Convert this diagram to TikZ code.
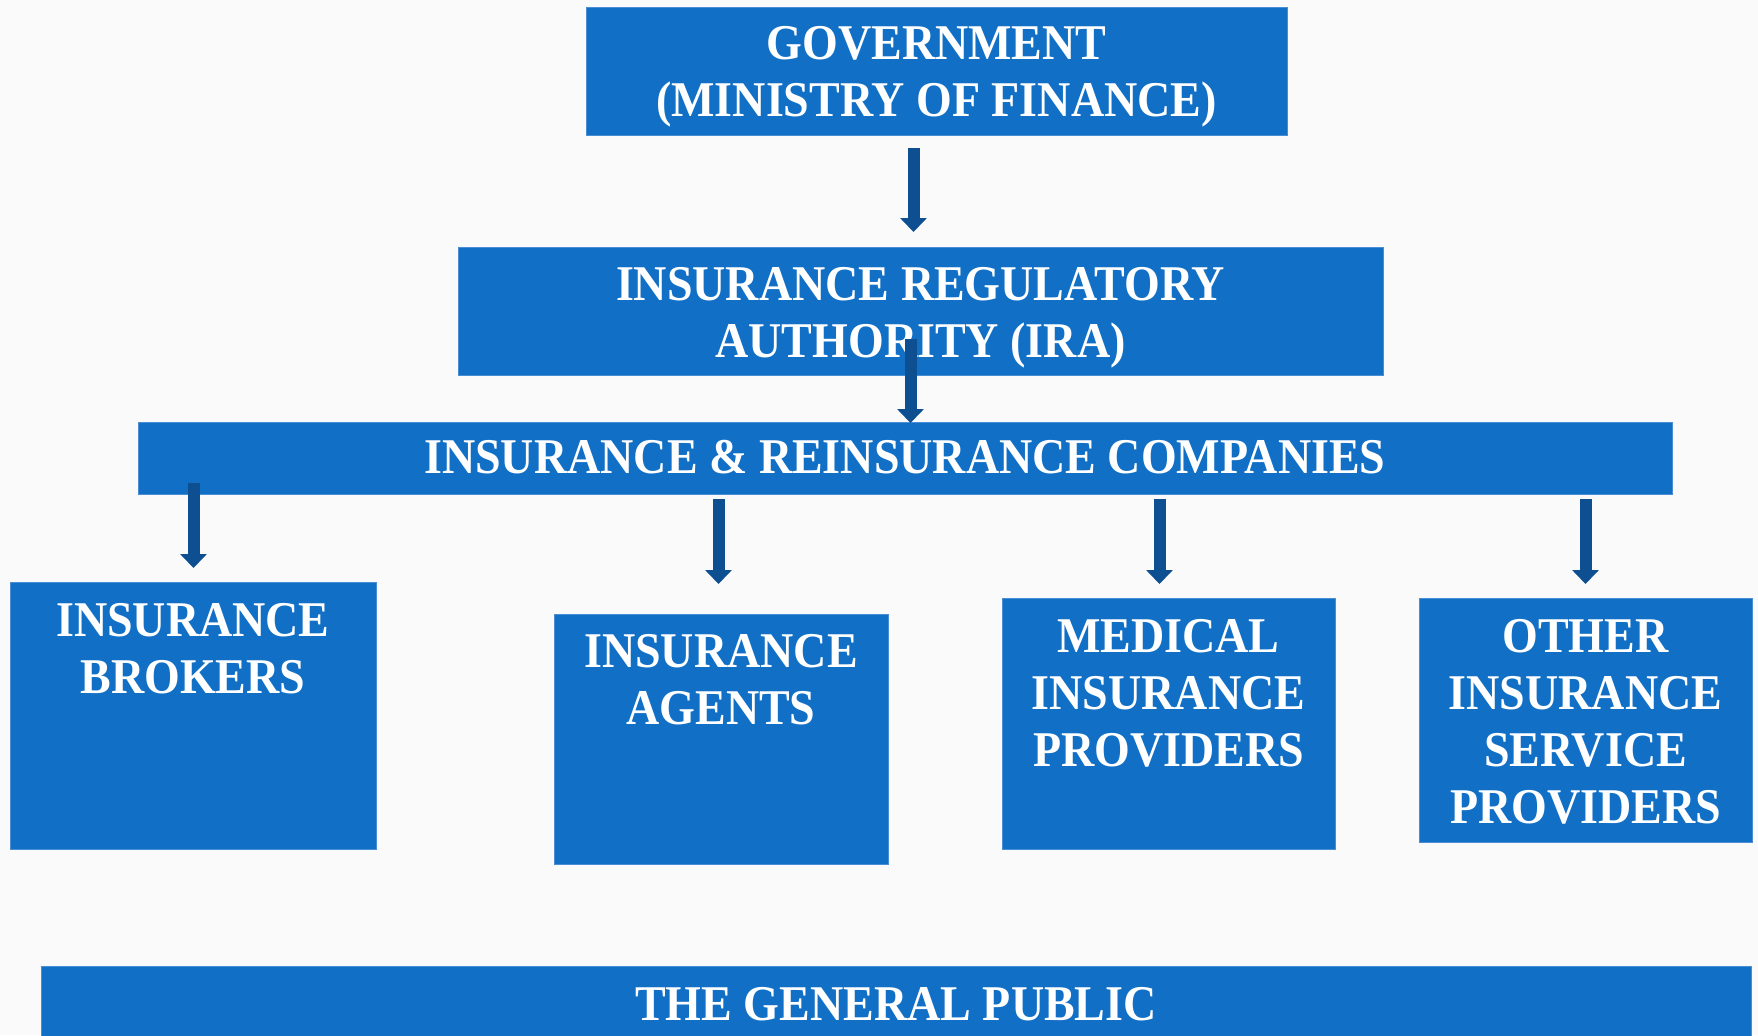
\documentclass[tikz,border=0pt]{standalone}
\usepackage{fontspec}
\setmainfont{Liberation Serif}[FakeStretch=0.92]
\usetikzlibrary{arrows.meta,calc}
\definecolor{boxblue}{RGB}{17,112,198}
\definecolor{boxedge}{RGB}{72,142,212}
\definecolor{arrowblue}{RGB}{14,79,145}
\definecolor{paper}{RGB}{250,250,250}
\begin{document}
\begin{tikzpicture}[x=0.5pt,y=-0.5pt,
  box/.style={draw=boxedge, line width=0.5pt, fill=boxblue, inner sep=0pt, anchor=north west},
  boxtext/.style={text=white, font=\bfseries\fontsize{25}{28.5}\selectfont, align=center, inner sep=0pt, anchor=north},
  flow/.style={draw=arrowblue, line width=6pt, -{Triangle[width=13pt,length=7pt]}}
]
% canvas
\useasboundingbox (0,0) rectangle (1758,1035);
\fill[paper] (0,0) rectangle (1758,1035);

% boxes
\node[box, minimum width=350.5pt, minimum height=64pt]  (gov)   at (586,7)   {};
\node[box, minimum width=462.5pt, minimum height=64pt]  (ira)   at (458,247) {};
\node[box, minimum width=767pt,   minimum height=36pt]  (comp)  at (138,422) {};
\node[box, minimum width=183pt,   minimum height=133.5pt] (brok) at (10,582)  {};
\node[box, minimum width=167pt,   minimum height=125pt] (agen)  at (554,614) {};
\node[box, minimum width=166.5pt, minimum height=125.5pt] (med) at (1002,598) {};
\node[box, minimum width=166.5pt, minimum height=122pt] (oth)   at (1419,598) {};
\node[box, minimum width=855pt,   minimum height=35.5pt] (pub)  at (41,966)  {};

% labels
\node[boxtext] (govt)  at (936.5,26)  {GOVERNMENT\\(MINISTRY OF FINANCE)};
\node[boxtext] (irat)  at (920.5,267) {INSURANCE REGULATORY\\AUTHORITY (IRA)};
\node[boxtext] (compt) at (905,440)   {INSURANCE \& REINSURANCE COMPANIES};
\node[boxtext] (brokt) at (193,603)   {INSURANCE\\BROKERS};
\node[boxtext] (agent) at (721,634)   {INSURANCE\\AGENTS};
\node[boxtext] (medt)  at (1168.5,619) {MEDICAL\\INSURANCE\\PROVIDERS};
\node[boxtext] (otht)  at (1585.5,619) {OTHER\\INSURANCE\\SERVICE\\PROVIDERS};
\node[boxtext] (pubt)  at (896,987)   {THE GENERAL PUBLIC};

% connectors
\draw[flow] ($(gov.south)+(-23.5,12)$)  -- ($(ira.north)+(-7.5,-15)$);
\draw[flow] ($(ira.south)+(-10.5,-37)$) -- ($(comp.north)+(5,1)$);
\draw[flow] ($(comp.south)+(-712,-12)$) -- ($(brok.north)+(0,-14)$);
\draw[flow] ($(comp.south)+(-187,4)$)   -- ($(agen.north)+(-3,-30)$);
\draw[flow] ($(comp.south)+(254,4)$)    -- ($(med.north)+(-9.5,-14)$);
\draw[flow] ($(comp.south)+(680,4)$)    -- ($(oth.north)+(-0.5,-14)$);
\end{tikzpicture}
\end{document}
